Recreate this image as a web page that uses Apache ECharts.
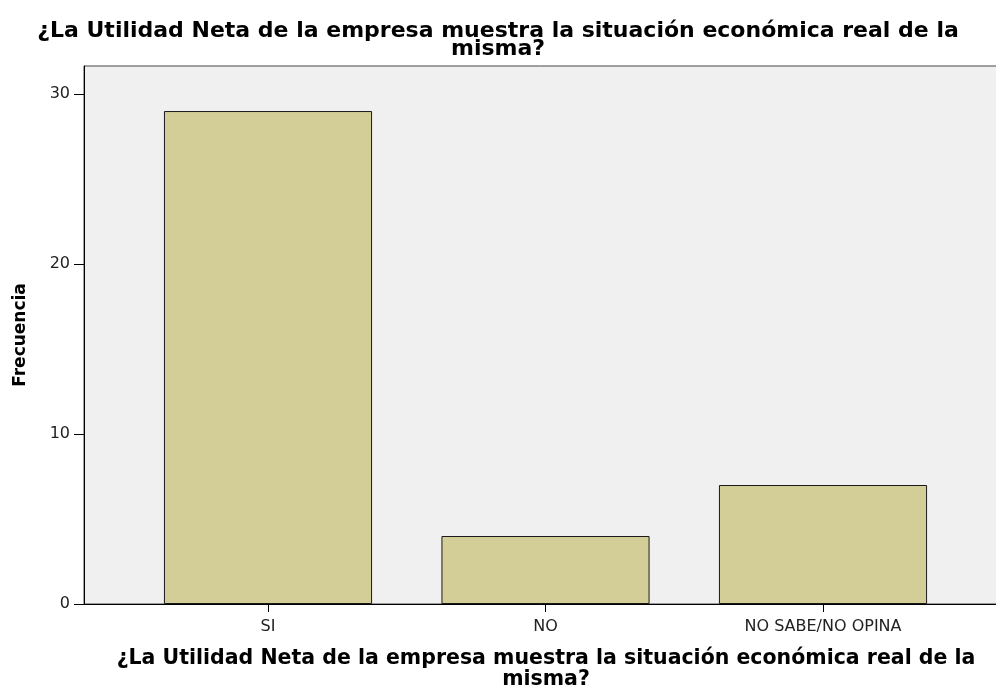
<!DOCTYPE html>
<html>
<head>
<meta charset="utf-8">
<script src="https://cdn.jsdelivr.net/npm/echarts@6/dist/echarts.min.js"></script>
<style>html,body{margin:0;padding:0;background:#fff;}#c{width:996px;height:688px;}</style>
</head>
<body>
<div id="c"></div>
<script>
const titleText = '¿La Utilidad Neta de la empresa muestra la situación económica real de la\nmisma?';
const xAxisTitle = '¿La Utilidad Neta de la empresa muestra la situación económica real de la\nmisma?';
const yAxisTitle = 'Frecuencia';
const categories = ['SI', 'NO', 'NO SABE/NO OPINA'];
const frequencies = [29, 4, 7];
const yTicks = [0, 10, 20, 30];

const chart = echarts.init(document.getElementById('c'), null, {renderer: 'canvas'});
const yMax = 31.65;
chart.setOption({
  animation: false,
  backgroundColor: '#ffffff',
  title: {
    text: titleText,
    left: 'center',
    top: 17,
    textStyle: {fontFamily: 'DejaVu Sans', fontWeight: 'bold', fontSize: 22, lineHeight: 18, color: '#000'}
  },
  grid: [
    {left: 84, top: 66, right: -12, bottom: 84, show: true, backgroundColor: '#f0f0f0', borderColor: '#444', borderWidth: 1, containLabel: false, outerBoundsMode: 'none'},
    {left: 129.25, top: 66, right: 34.25, bottom: 84, containLabel: false, outerBoundsMode: 'none'}
  ],
  xAxis: [
    {
      type: 'value', gridIndex: 0, min: 0, max: 1,
      axisLine: {show: true, lineStyle: {color: '#000', width: 1}},
      axisTick: {show: false}, axisLabel: {show: false}, splitLine: {show: false},
      name: xAxisTitle, nameLocation: 'middle', nameGap: 44,
      nameTextStyle: {fontFamily: 'DejaVu Sans', fontWeight: 'bold', fontSize: 20.5, lineHeight: 21, color: '#000'}
    },
    {
      type: 'category', gridIndex: 1, data: categories,
      axisLine: {show: false},
      axisTick: {show: true, alignWithLabel: true, length: 8, lineStyle: {color: '#000'}},
      axisLabel: {margin: 15, fontFamily: 'DejaVu Sans', fontSize: 16, color: '#222'},
      splitLine: {show: false}
    }
  ],
  yAxis: [
    {
      type: 'value', gridIndex: 0, min: 0, max: yMax, interval: 10,
      axisLine: {show: true, lineStyle: {color: '#000', width: 1}},
      axisTick: {show: true, length: 10, customValues: yTicks, lineStyle: {color: '#000'}},
      axisLabel: {margin: 14, customValues: yTicks, fontFamily: 'DejaVu Sans', fontSize: 16, color: '#222'},
      splitLine: {show: false},
      name: yAxisTitle, nameLocation: 'middle', nameGap: 55, nameRotate: 90,
      nameTextStyle: {fontFamily: 'DejaVu Sans', fontWeight: 'bold', fontSize: 17, color: '#000'}
    },
    {type: 'value', gridIndex: 1, min: 0, max: yMax, show: false, splitLine: {show: false}}
  ],
  series: [{
    type: 'bar', xAxisIndex: 1, yAxisIndex: 1,
    data: frequencies, barWidth: '75%',
    itemStyle: {color: '#d3ce98', borderColor: '#1a1a1a', borderWidth: 1}
  }]
});
</script>
</body>
</html>
